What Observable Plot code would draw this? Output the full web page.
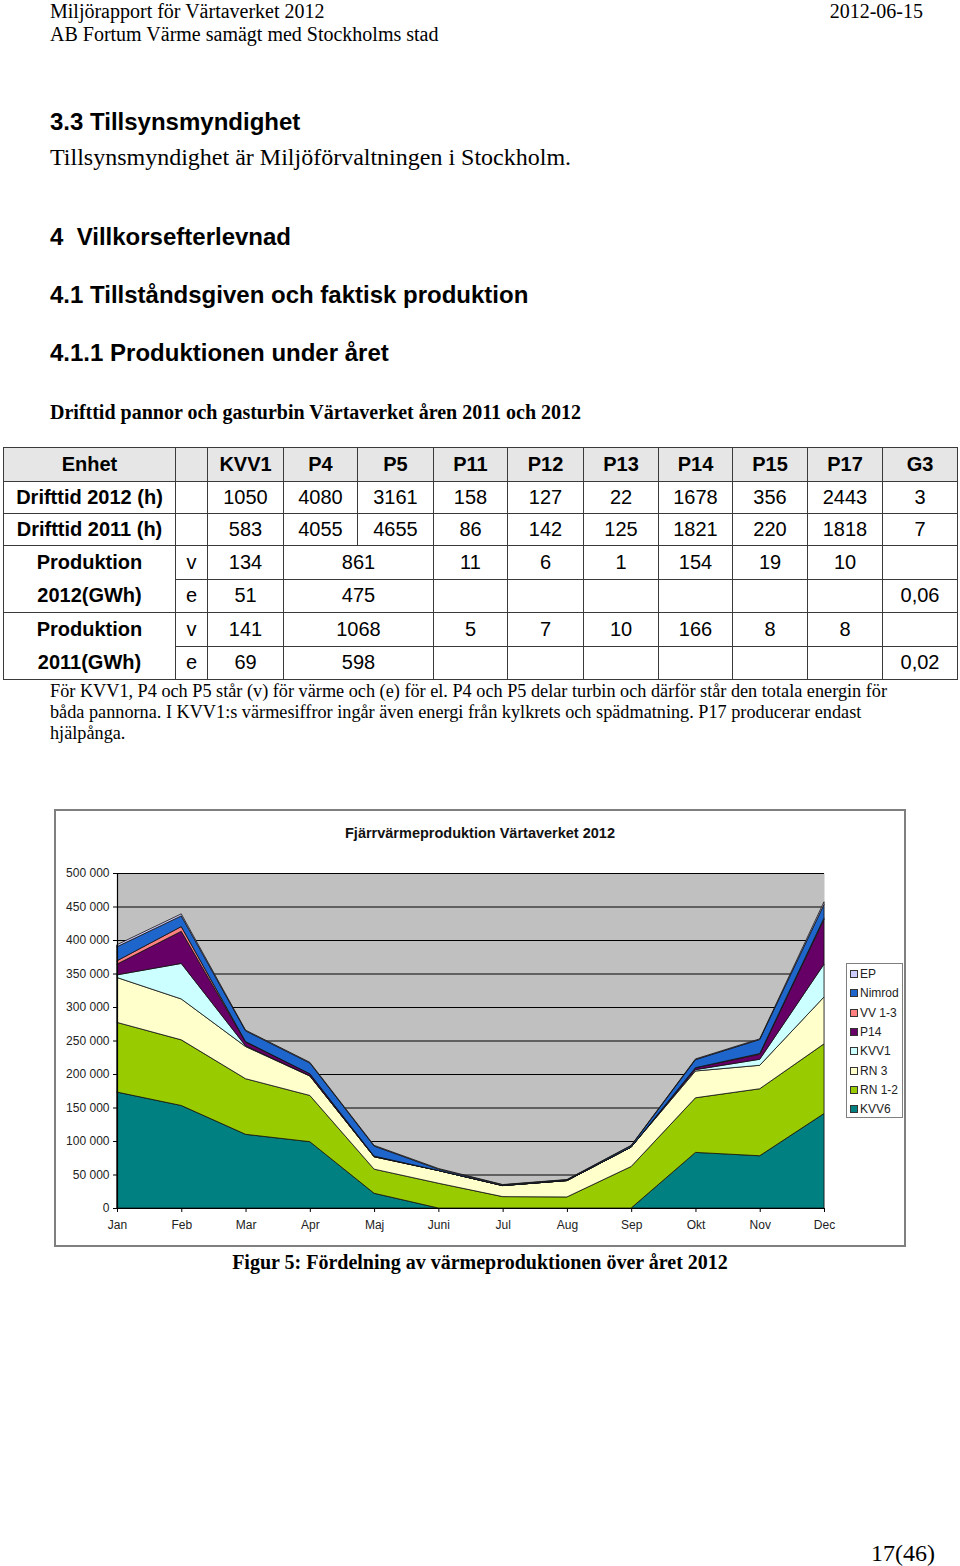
<!DOCTYPE html>
<html>
<head>
<meta charset="utf-8">
<script src="https://cdn.jsdelivr.net/npm/d3@7"></script>
<script src="https://cdn.jsdelivr.net/npm/@observablehq/plot@0.6"></script>
<style>
  html, body { margin: 0; padding: 0; background: #fff; }
  body { width: 960px; height: 1566px; position: relative; overflow: hidden; color: #000; }
  .t { position: absolute; white-space: pre; }
  .serif { font-family: "Liberation Serif", "Times New Roman", serif; }
  .sans { font-family: "Liberation Sans", Arial, sans-serif; }
  table.tab { position: absolute; left: 3px; top: 447px; border-collapse: collapse; table-layout: fixed;
    font-family: "Liberation Sans", Arial, sans-serif; font-size: 20px; }
  table.tab td { border: 1.5px solid #3a3a3a; text-align: center; padding: 0; height: 31px; line-height: 31px; }
  table.tab tr.head td { background: #e6e6e6; font-weight: bold; height: 33px; line-height: 33px; }
  table.tab td.lab { font-weight: bold; }
  #chart { position: absolute; left: 54px; top: 809px; border: 2px solid #7f7f7f; width: 848px; height: 434px; }
  #chart svg { display: block; }
  #ctitle { position: absolute; left: 0; width: 848px; top: 14px; text-align: center; font: bold 14.5px "Liberation Sans", Arial, sans-serif; color: #111; }
  #legend { position: absolute; left: 790px; top: 152px; width: 55px; height: 153px; border: 1.5px solid #7f7f7f; background: #fff;
    font-family: "Liberation Sans", Arial, sans-serif; font-size: 12px; color: #222; }
  #legend .it { position: absolute; left: 3px; height: 14px; line-height: 14px; white-space: nowrap; }
  #legend .sw { display: inline-block; width: 6px; height: 6px; border: 1px solid #333; margin-right: 2px; vertical-align: 0px; }
  .note { position: absolute; left: 50px; font-family: "Liberation Serif", "Times New Roman", serif; font-size: 19px; line-height: 19px; white-space: pre; transform-origin: 0 50%; }
</style>
</head>
<body>
<div class="t serif" style="left:50px; top:0px; font-size:20px; line-height:22px;">Miljörapport för Värtaverket 2012</div>
<div class="t serif" style="right:37px; top:0px; font-size:20px; line-height:22px;">2012-06-15</div>
<div class="t serif" style="left:50px; top:23px; font-size:20px; line-height:22px;">AB Fortum Värme samägt med Stockholms stad</div>

<div class="t sans" style="left:50px; top:110px; font-size:24px; line-height:24px; font-weight:bold;">3.3 Tillsynsmyndighet</div>
<div class="t serif" style="left:50px; top:145px; font-size:24px; line-height:24px;">Tillsynsmyndighet är Miljöförvaltningen i Stockholm.</div>
<div class="t sans" style="left:50px; top:225px; font-size:24px; line-height:24px; font-weight:bold;">4  Villkorsefterlevnad</div>
<div class="t sans" style="left:50px; top:283px; font-size:24px; line-height:24px; font-weight:bold;">4.1 Tillståndsgiven och faktisk produktion</div>
<div class="t sans" style="left:50px; top:341px; font-size:24px; line-height:24px; font-weight:bold;">4.1.1 Produktionen under året</div>
<div class="t serif" style="left:50px; top:402px; font-size:20px; line-height:20px; font-weight:bold;">Drifttid pannor och gasturbin Värtaverket åren 2011 och 2012</div>

<table class="tab" id="tab"></table>

<div class="note" id="n1" style="top:681px;">För KVV1, P4 och P5 står (v) för värme och (e) för el. P4 och P5 delar turbin och därför står den totala energin för</div>
<div class="note" id="n2" style="top:702px;">båda pannorna. I KVV1:s värmesiffror ingår även energi från kylkrets och spädmatning. P17 producerar endast</div>
<div class="note" id="n3" style="top:723px;">hjälpånga.</div>

<div id="chart">
  <div id="ctitle">Fjärrvärmeproduktion Värtaverket 2012</div>
  <div id="legend"></div>
</div>

<div class="t serif" style="left:0; width:960px; text-align:center; top:1251px; font-size:20px; line-height:22px; font-weight:bold;">Figur 5: Fördelning av värmeproduktionen över året 2012</div>
<div class="t serif" style="left:871px; top:1541px; font-size:24px; line-height:24px;">17(46)</div>

<script>
// ---------- Table data ----------
const units = ["KVV1", "P4", "P5", "P11", "P12", "P13", "P14", "P15", "P17", "G3"];
const drift2012 = ["1050", "4080", "3161", "158", "127", "22", "1678", "356", "2443", "3"];
const drift2011 = ["583", "4055", "4655", "86", "142", "125", "1821", "220", "1818", "7"];
// Production rows: KVV1, P4+P5 (merged), P11, P12, P13, P14, P15, P17, G3
const prod2012v = ["134", "861", "11", "6", "1", "154", "19", "10", ""];
const prod2012e = ["51", "475", "", "", "", "", "", "", "0,06"];
const prod2011v = ["141", "1068", "5", "7", "10", "166", "8", "8", ""];
const prod2011e = ["69", "598", "", "", "", "", "", "", "0,02"];

// ---------- Chart data ----------
const months = ["Jan", "Feb", "Mar", "Apr", "Maj", "Juni", "Jul", "Aug", "Sep", "Okt", "Nov", "Dec"];
const seriesOrder = ["KVV6", "RN 1-2", "RN 3", "KVV1", "P14", "VV 1-3", "Nimrod", "EP"]; // bottom to top
const seriesColors = ["#008080", "#99CC00", "#FFFFCC", "#CCFFFF", "#660066", "#FF8080", "#1F66CC", "#CCCCFF"];
const KVV6   = [173000, 153000, 110000, 99000, 22000, 0, 0, 0, 0, 83000, 78000, 141000];
const RN12   = [104000, 98000, 83000, 69000, 36000, 37000, 17000, 16500, 62000, 81500, 100000, 104000];
const RN3    = [67000, 61000, 48000, 29000, 18500, 19000, 16500, 24500, 29000, 40000, 35000, 70000];
const KVV1   = [4000, 53000, 1000, 500, 0, 0, 0, 0, 0, 2000, 9000, 49000];
const P14    = [16000, 48000, 6000, 3000, 1000, 0, 0, 0, 0, 3000, 7500, 67000];
const VV13   = [5000, 7000, 500, 0, 0, 0, 0, 0, 0, 0, 1000, 2000];
const Nimrod = [21000, 16000, 16000, 16000, 15000, 2000, 1000, 1000, 2000, 12000, 21000, 20000];
const EP     = [3000, 3000, 1000, 1000, 1000, 1000, 500, 500, 500, 1000, 1000, 4000];
const yTicks = [0, 50000, 100000, 150000, 200000, 250000, 300000, 350000, 400000, 450000, 500000];

// ---------- Build table ----------
(function () {
  const tab = document.getElementById("tab");
  const widths = [172, 32, 76, 74, 76, 74, 76, 75, 74, 75, 75, 75];
  const cg = document.createElement("colgroup");
  widths.forEach(w => { const c = document.createElement("col"); c.style.width = w + "px"; cg.appendChild(c); });
  tab.appendChild(cg);
  tab.style.width = d3.sum(widths) + "px";
  const cell = (tr, txt, opts = {}) => {
    const td = document.createElement("td");
    td.textContent = txt;
    if (opts.cls) td.className = opts.cls;
    if (opts.colspan) td.colSpan = opts.colspan;
    if (opts.rowspan) td.rowSpan = opts.rowspan;
    tr.appendChild(td);
    return td;
  };
  let tr = document.createElement("tr"); tr.className = "head";
  cell(tr, "Enhet"); cell(tr, ""); units.forEach(u => cell(tr, u)); tab.appendChild(tr);
  [["Drifttid 2012 (h)", drift2012], ["Drifttid 2011 (h)", drift2011]].forEach(([lab, vals]) => {
    tr = document.createElement("tr"); cell(tr, lab, { cls: "lab" }); cell(tr, ""); vals.forEach(v => cell(tr, v)); tab.appendChild(tr);
  });
  [["2012(GWh)", prod2012v, prod2012e], ["2011(GWh)", prod2011v, prod2011e]].forEach(([yr, vrow, erow]) => {
    tr = document.createElement("tr");
    const td = cell(tr, "", { cls: "lab", rowspan: 2 });
    td.innerHTML = "Produktion<br>" + yr;
    td.style.lineHeight = "33px";
    cell(tr, "v");
    vrow.forEach((v, i) => cell(tr, v, i === 1 ? { colspan: 2 } : {}));
    tab.appendChild(tr);
    tr = document.createElement("tr");
    cell(tr, "e");
    erow.forEach((v, i) => cell(tr, v, i === 1 ? { colspan: 2 } : {}));
    tab.appendChild(tr);
  });
})();

// ---------- Note text width fitting ----------
(function () {
  const n1 = document.getElementById("n1");
  const w = n1.getBoundingClientRect().width;
  const s = 837 / w;
  ["n1", "n2", "n3"].forEach(id => { document.getElementById(id).style.transform = `scaleX(${s})`; });
})();

// ---------- Chart ----------
const seriesValues = { "KVV6": KVV6, "RN 1-2": RN12, "RN 3": RN3, "KVV1": KVV1, "P14": P14, "VV 1-3": VV13, "Nimrod": Nimrod, "EP": EP };
const data = [];
seriesOrder.forEach(s => seriesValues[s].forEach((v, i) => data.push({ series: s, i, month: months[i], value: v })));
const fmt = d => d === 0 ? "0" : d3.format(",")(d).replace(/,/g, " ");

const chart = Plot.plot({
  width: 848,
  height: 434,
  marginLeft: 61,
  marginRight: 80,
  marginTop: 62,
  marginBottom: 37,
  style: { fontFamily: "'Liberation Sans', Arial, sans-serif", fontSize: "12px", color: "#222", background: "#fff", overflow: "visible" },
  x: { domain: [0, 11] },
  y: { domain: [0, 500000] },
  color: { domain: seriesOrder, range: seriesColors },
  marks: [
    Plot.frame({ fill: "#C0C0C0", stroke: "none" }),
    Plot.gridY(yTicks, { stroke: "#000", strokeOpacity: 1, strokeWidth: 1.2 }),
    Plot.areaY(data, { x: "i", y: "value", z: "series", fill: "series", stroke: "#111", strokeWidth: 0.8, order: seriesOrder }),
    Plot.ruleX([0], { stroke: "#000", strokeWidth: 1.2 }),
    Plot.ruleY([0], { stroke: "#000", strokeWidth: 1.2 }),
    Plot.axisY({ ticks: yTicks, tickFormat: fmt, tickSize: 4, tickPadding: 4, label: null, stroke: "#000" }),
    Plot.axisX({ ticks: d3.range(12), tickFormat: i => months[i], tickSize: 4, tickPadding: 8, label: null, stroke: "#000" })
  ]
});
const chartDiv = document.getElementById("chart");
chartDiv.insertBefore(chart, chartDiv.firstChild);

// ---------- Legend ----------
(function () {
  const lg = document.getElementById("legend");
  const top = seriesOrder.slice().reverse();
  top.forEach((s, k) => {
    const it = document.createElement("div");
    it.className = "it";
    it.style.top = (3 + k * 19.3) + "px";
    const sw = document.createElement("span");
    sw.className = "sw";
    sw.style.background = seriesColors[seriesOrder.indexOf(s)];
    it.appendChild(sw);
    it.appendChild(document.createTextNode(s));
    lg.appendChild(it);
  });
})();
</script>
</body>
</html>
